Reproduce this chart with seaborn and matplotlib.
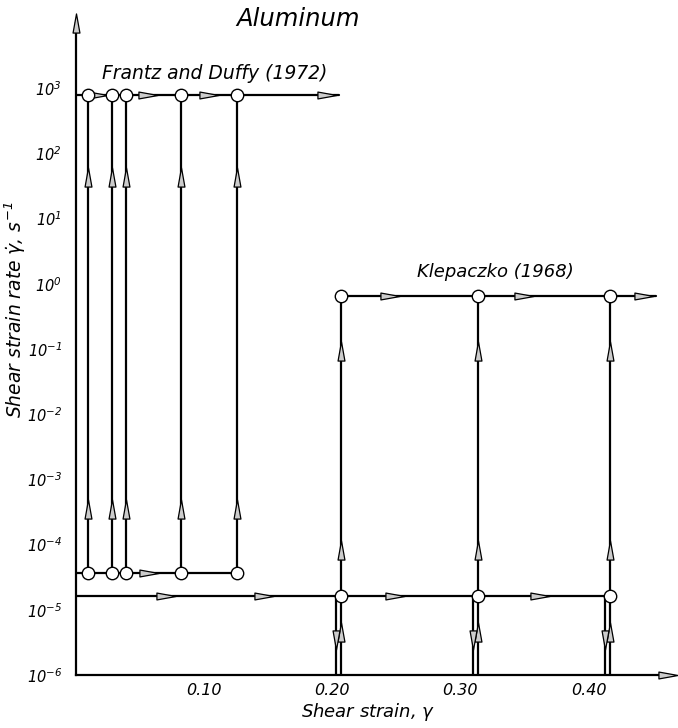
import numpy as np
import pandas as pd
import matplotlib
matplotlib.use("Agg")
import matplotlib.pyplot as plt
import seaborn as sns
from matplotlib.path import Path

# ---------------- data ----------------
title = "Aluminum"
frantz_label = "Frantz and Duffy (1972)"
klep_label = "Klepaczko (1968)"

frantz_strain = [0.0094, 0.028, 0.039, 0.082, 0.126]
frantz_rate_high = 8.0e2
frantz_rate_low = 3.7e-5
frantz_end_strain = 0.205

klep_strain = [0.207, 0.314, 0.417]
klep_rate_high = 0.66
klep_rate_low = 1.6e-5
klep_end_strain = 0.453
rate_floor = 1e-6

# arrowhead locations along the paths
frantz_top_arrows = [0.017, 0.056, 0.104, 0.196]
frantz_low_arrows = [0.057]
frantz_up_arrows = [3.5e-4, 43.0]
klep_low_arrows = [0.07, 0.147, 0.249, 0.362]
klep_top_arrows = [0.245, 0.35, 0.443]
klep_up_arrows = [8.3e-5, 9.3e-2]
klep_unload_up = 4.6e-6
klep_unload_down = 3.4e-6

xticks = [0.10, 0.20, 0.30, 0.40]
xtick_labels = ["0.10", "0.20", "0.30", "0.40"]
yticks = [1e-6, 1e-5, 1e-4, 1e-3, 1e-2, 1e-1, 1e0, 1e1, 1e2, 1e3]
ytick_labels = [r"$10^{-6}$", r"$10^{-5}$", r"$10^{-4}$", r"$10^{-3}$", r"$10^{-2}$",
                r"$10^{-1}$", r"$10^{0}$", r"$10^{1}$", r"$10^{2}$", r"$10^{3}$"]

x_max = 0.462
y_max = 1e4

# ---------------- style ----------------
sns.set_theme(style="white")
plt.rcParams["font.family"] = ["DejaVu Sans"]
plt.rcParams["font.style"] = "italic"
plt.rcParams["mathtext.fontset"] = "dejavusans"
plt.rcParams["mathtext.default"] = "it"
plt.rcParams["text.color"] = "black"
plt.rcParams["xtick.color"] = "black"
plt.rcParams["ytick.color"] = "black"
plt.rcParams["xtick.labelcolor"] = "black"
plt.rcParams["ytick.labelcolor"] = "black"

# ---------------- segments ----------------
rows = []
seg = 0
def add(xs, ys):
    global seg
    for x, y in zip(xs, ys):
        rows.append({"seg": seg, "strain": x, "rate": y})
    seg += 1

for s in frantz_strain:
    add([s, s], [frantz_rate_low, frantz_rate_high])
add([0.0, frantz_end_strain], [frantz_rate_high, frantz_rate_high])
add([0.0, frantz_strain[-1]], [frantz_rate_low, frantz_rate_low])
for s in klep_strain:
    add([s, s], [rate_floor, klep_rate_high])
    add([s - 0.004, s - 0.004], [rate_floor, klep_rate_low])
add([0.0, klep_strain[-1]], [klep_rate_low, klep_rate_low])
add([klep_strain[0], klep_end_strain], [klep_rate_high, klep_rate_high])
lines = pd.DataFrame(rows)

circles = pd.DataFrame(
    {"strain": frantz_strain * 2 + klep_strain * 2,
     "rate": [frantz_rate_high] * 5 + [frantz_rate_low] * 5
             + [klep_rate_high] * 3 + [klep_rate_low] * 3})

right_arrows = pd.DataFrame(
    {"strain": frantz_top_arrows + frantz_low_arrows + klep_low_arrows + klep_top_arrows,
     "rate": [frantz_rate_high] * len(frantz_top_arrows)
             + [frantz_rate_low] * len(frantz_low_arrows)
             + [klep_rate_low] * len(klep_low_arrows)
             + [klep_rate_high] * len(klep_top_arrows)})

up_x, up_y = [], []
for s in frantz_strain:
    for r in frantz_up_arrows:
        up_x.append(s); up_y.append(r)
for s in klep_strain:
    for r in klep_up_arrows:
        up_x.append(s); up_y.append(r)
    up_x.append(s); up_y.append(klep_unload_up)
up_arrows = pd.DataFrame({"strain": up_x, "rate": up_y})
down_arrows = pd.DataFrame({"strain": [s - 0.004 for s in klep_strain],
                            "rate": [klep_unload_down] * len(klep_strain)})

m_right = Path([(-1, -0.36), (-1, 0.36), (1, 0), (-1, -0.36)], closed=True)
m_up = Path([(-0.36, -1), (0.36, -1), (0, 1), (-0.36, -1)], closed=True)
m_down = Path([(-0.36, 1), (0.36, 1), (0, -1), (-0.36, 1)], closed=True)

# ---------------- figure ----------------
fig = plt.figure(figsize=(6.78, 7.28), dpi=100)
ax = fig.add_axes([76 / 678, 53 / 728, 592 / 678, 652 / 728])

sns.lineplot(data=lines, x="strain", y="rate", units="seg", estimator=None,
             sort=False, color="black", lw=1.6, ax=ax, zorder=2, legend=False)
arrow_kw = dict(s=190, color="0.8", edgecolor="black", linewidth=0.9, ax=ax, zorder=3)
sns.scatterplot(data=right_arrows, x="strain", y="rate", marker=m_right, **arrow_kw)
sns.scatterplot(data=up_arrows, x="strain", y="rate", marker=m_up, **arrow_kw)
sns.scatterplot(data=down_arrows, x="strain", y="rate", marker=m_down, **arrow_kw)
sns.scatterplot(data=circles, x="strain", y="rate", marker="o", s=80,
                color="white", edgecolor="black", linewidth=1.0, ax=ax, zorder=4)

# axis arrows
ax.scatter([0.0], [y_max], marker=m_up, s=190, color="0.8", edgecolor="black",
           linewidth=0.9, clip_on=False, zorder=5)
ax.scatter([x_max], [rate_floor], marker=m_right, s=190, color="0.8",
           edgecolor="black", linewidth=0.9, clip_on=False, zorder=5)

ax.set_yscale("log")
ax.set_xlim(0, x_max)
ax.set_ylim(rate_floor, y_max)
ax.set_yticks(yticks)
ax.set_yticklabels(ytick_labels)
ax.set_xticks(xticks)
ax.set_xticklabels(xtick_labels)
ax.minorticks_off()
ax.tick_params(axis="y", direction="in", length=6, width=1.0, pad=10,
               labelsize=10.5, color="black", labelcolor="black")
ax.tick_params(axis="x", direction="in", length=9, width=1.0, pad=6,
               labelsize=11.5, color="black", labelcolor="black")
for lab in ax.get_xticklabels() + ax.get_yticklabels():
    lab.set_fontstyle("italic")
ax.set_xlabel("")
ax.set_ylabel("")
for sp in ["top", "right"]:
    ax.spines[sp].set_visible(False)
for sp in ["left", "bottom"]:
    ax.spines[sp].set_color("black")
    ax.spines[sp].set_linewidth(1.6)
ax.grid(False)

ax.text(0.020, 1.7e3, frantz_label, fontsize=13.5, style="italic", ha="left",
        va="center", color="black")
ax.text(0.266, 1.5, klep_label, fontsize=13, style="italic", ha="left",
        va="center", color="black")

fig.text(298 / 678, 1 - 19 / 728, title, fontsize=17.5, style="italic",
         ha="center", va="center", color="black")
fig.text(368 / 678, 1 - 712 / 728, r"Shear strain, $\gamma$", fontsize=13,
         style="italic", ha="center", va="center", color="black")
fig.text(15 / 678, 1 - 310 / 728, r"Shear strain rate $\dot{\gamma}$, $s^{-1}$",
         fontsize=13.5, style="italic", rotation=90, ha="center", va="center",
         color="black")

fig.savefig("out.png", dpi=100)
